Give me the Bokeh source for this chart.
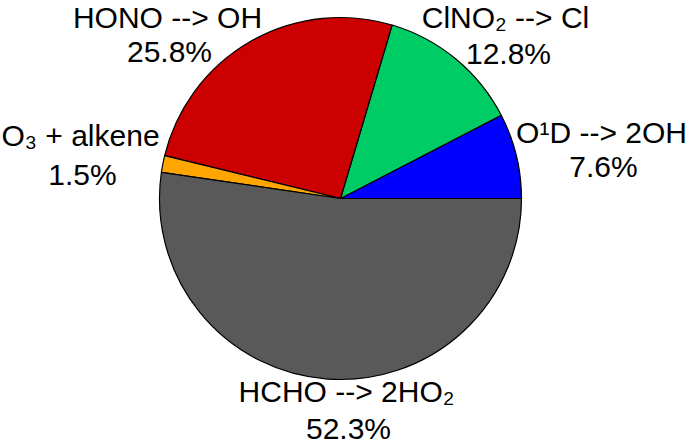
import math
from bokeh.plotting import figure
from bokeh.models import Range1d, ColumnDataSource
from bokeh.core.properties import value
from bokeh.embed import file_html
from bokeh.resources import INLINE

# ---- data ----
names = ["O\u00b9D --> 2OH", "ClNO\u2082 --> Cl", "HONO --> OH", "O\u2083 + alkene", "HCHO --> 2HO\u2082"]
percents = [7.6, 12.8, 25.8, 1.5, 52.3]
colors = ["#0000FF", "#00CC66", "#CC0000", "#FFA500", "#595959"]

# label anchor positions (pixels relative to pie centre, y up)
name_pos = [(261, 66), (165, 181), (-173, 181), (-260, 63), (6, -193)]
pct_pos = [(263, 32), (168, 145), (-171, 147), (-258, 24), (8, -230)]

# ---- geometry ----
R = 181
W, H = 689, 447
cx, cy = 340, 198  # pie centre within the figure, from top-left (pixels)

total = sum(percents)
starts, ends = [], []
acc = 0.0
for v in percents:
    starts.append(2 * math.pi * acc / total)
    acc += v
    ends.append(2 * math.pi * acc / total)

src = ColumnDataSource(dict(start=starts, end=ends, color=colors,
                            x=[0] * len(percents), y=[0] * len(percents)))

p = figure(width=W, height=H, output_backend="svg", toolbar_location=None,
           x_range=Range1d(-cx, W - cx), y_range=Range1d(-(H - cy), cy),
           min_border=0, background_fill_color="white", border_fill_color="white")
p.axis.visible = False
p.grid.visible = False
p.outline_line_color = None

p.wedge(x="x", y="y", radius=R, start_angle="start", end_angle="end",
        fill_color="color", line_color="black", line_width=1.2, source=src)

lsrc = ColumnDataSource(dict(
    nx=[q[0] for q in name_pos], ny=[q[1] for q in name_pos], name=names,
    px=[q[0] for q in pct_pos], py=[q[1] for q in pct_pos],
    pct=[f"{v:.1f}%" for v in percents]))

for xcol, ycol, tcol in (("nx", "ny", "name"), ("px", "py", "pct")):
    p.text(x=xcol, y=ycol, text=tcol, source=lsrc, text_align="center",
           text_baseline="alphabetic", text_font=value("Liberation Sans"),
           text_font_size="30px", text_color="black")

open("out.html", "w").write(file_html(p, INLINE))
